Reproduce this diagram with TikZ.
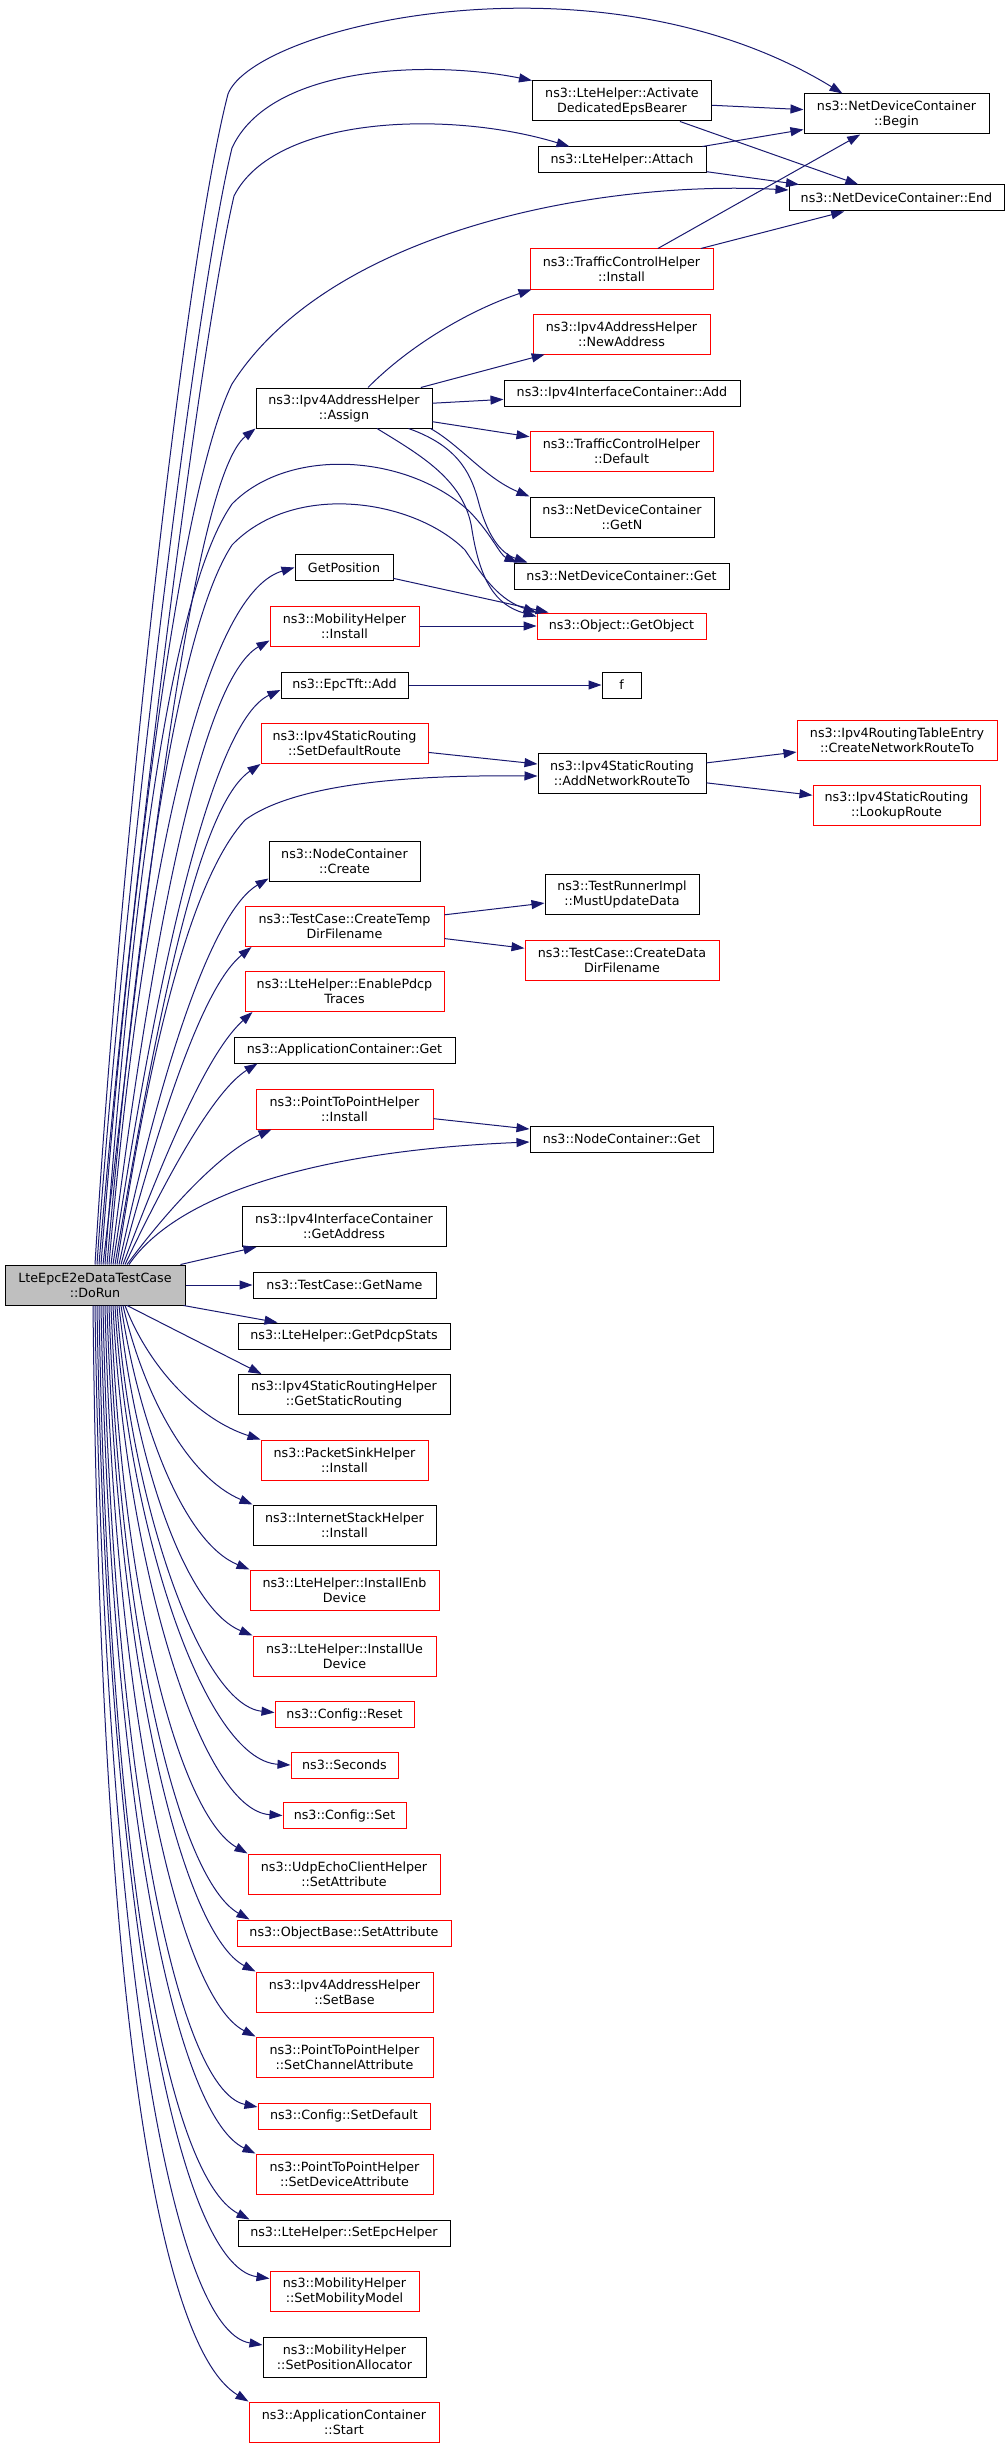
\documentclass[tikz,border=0pt]{standalone}
\usepackage{fontspec}
\setmainfont{DejaVu Sans}
\usepackage{xcolor}
\usepackage{tikz}
\usetikzlibrary{arrows.meta}
\definecolor{edgeblue}{HTML}{191970}
\definecolor{rootgray}{HTML}{BFBFBF}

\begin{document}
\begin{tikzpicture}[x=1pt,y=-1pt,
  fn/.style={draw=black,line width=1pt,fill=white,inner sep=0pt,align=center,minimum height=26pt,font=\fontsize{12.7}{15}\selectfont},
  fnred/.style={fn,draw=red},
  tall/.style={minimum height=40pt},
  root/.style={fn,tall,fill=rootgray},
  call/.style={draw=edgeblue,line width=1pt,-{Triangle[length=13pt,width=9pt]}}]
\useasboundingbox (0,0) rectangle (1005,2448);
%% root
\node[root,minimum width=180pt] (dorun) at (95,1285) {LteEpcE2eDataTestCase\\::DoRun};
%% right column
\node[fn,tall,minimum width=185pt] (ndcbegin) at (896.5,114) {ns3::NetDeviceContainer\\::Begin};
\node[fn,minimum width=215pt] (ndcend) at (896.5,198) {ns3::NetDeviceContainer::End};
\node[fnred,tall,minimum width=200pt] (createroute) at (897,740) {ns3::Ipv4RoutingTableEntry\\::CreateNetworkRouteTo};
\node[fnred,tall,minimum width=167pt] (lookup) at (896.5,805) {ns3::Ipv4StaticRouting\\::LookupRoute};
%% middle column
\node[fn,tall,minimum width=179pt] (activate) at (622,101) {ns3::LteHelper::Activate\\DedicatedEpsBearer};
\node[fn,minimum width=168pt] (attach) at (622,160) {ns3::LteHelper::Attach};
\node[fnred,tall,minimum width=183pt] (tcinstall) at (621.5,269) {ns3::TrafficControlHelper\\::Install};
\node[fnred,tall,minimum width=177pt] (newaddr) at (621.5,334) {ns3::Ipv4AddressHelper\\::NewAddress};
\node[fn,minimum width=236pt] (ifadd) at (622,393) {ns3::Ipv4InterfaceContainer::Add};
\node[fnred,tall,minimum width=183pt] (tcdefault) at (621.5,451) {ns3::TrafficControlHelper\\::Default};
\node[fn,tall,minimum width=184pt] (getn) at (622,517) {ns3::NetDeviceContainer\\::GetN};
\node[fn,minimum width=215pt] (ndcget) at (621.5,576) {ns3::NetDeviceContainer::Get};
\node[fnred,minimum width=169pt] (getobject) at (621.5,626) {ns3::Object::GetObject};
\node[fn,minimum width=39pt] (fnode) at (621.5,685) {f};
\node[fn,tall,minimum width=168pt] (addroute) at (622,773) {ns3::Ipv4StaticRouting\\::AddNetworkRouteTo};
\node[fn,tall,minimum width=154pt] (mustupdate) at (622,894) {ns3::TestRunnerImpl\\::MustUpdateData};
\node[fnred,tall,minimum width=194pt] (createdata) at (622,960) {ns3::TestCase::CreateData\\DirFilename};
\node[fn,minimum width=183pt] (nodeget) at (621.5,1139) {ns3::NodeContainer::Get};
%% left column
\node[fn,tall,minimum width=176pt] (assign) at (344,408) {ns3::Ipv4AddressHelper\\::Assign};
\node[fn,minimum width=98pt] (getpos) at (344,567.5) {GetPosition};
\node[fnred,tall,minimum width=149pt] (mobinstall) at (344.5,626) {ns3::MobilityHelper\\::Install};
\node[fn,minimum width=127pt] (epcadd) at (344.5,685) {ns3::EpcTft::Add};
\node[fnred,tall,minimum width=167pt] (setdefroute) at (344.5,743.5) {ns3::Ipv4StaticRouting\\::SetDefaultRoute};
\node[fn,tall,minimum width=151pt] (nccreate) at (344.5,861) {ns3::NodeContainer\\::Create};
\node[fnred,tall,minimum width=199pt] (createtemp) at (344.5,926.5) {ns3::TestCase::CreateTemp\\DirFilename};
\node[fnred,tall,minimum width=199pt] (pdcptraces) at (344.5,991.5) {ns3::LteHelper::EnablePdcp\\Traces};
\node[fn,minimum width=221pt] (appget) at (344.5,1050) {ns3::ApplicationContainer::Get};
\node[fnred,tall,minimum width=177pt] (p2pinstall) at (344.5,1109) {ns3::PointToPointHelper\\::Install};
\node[fn,tall,minimum width=204pt] (getaddr) at (344,1226.5) {ns3::Ipv4InterfaceContainer\\::GetAddress};
\node[fn,minimum width=183pt] (getname) at (344.5,1285) {ns3::TestCase::GetName};
\node[fn,minimum width=212pt] (pdcpstats) at (344,1336) {ns3::LteHelper::GetPdcpStats};
\node[fn,tall,minimum width=212pt] (staticrouting) at (344,1394.5) {ns3::Ipv4StaticRoutingHelper\\::GetStaticRouting};
\node[fnred,tall,minimum width=167pt] (sinkinstall) at (344.5,1460) {ns3::PacketSinkHelper\\::Install};
\node[fn,tall,minimum width=183pt] (stackinstall) at (344.5,1525) {ns3::InternetStackHelper\\::Install};
\node[fnred,tall,minimum width=189pt] (enbdev) at (344.5,1590) {ns3::LteHelper::InstallEnb\\Device};
\node[fnred,tall,minimum width=183pt] (uedev) at (344.5,1656) {ns3::LteHelper::InstallUe\\Device};
\node[fnred,minimum width=139pt] (cfgreset) at (344.5,1714.5) {ns3::Config::Reset};
\node[fnred,minimum width=107pt] (seconds) at (344.5,1765) {ns3::Seconds};
\node[fnred,minimum width=123pt] (cfgset) at (344.5,1815.5) {ns3::Config::Set};
\node[fnred,tall,minimum width=192pt] (udpattr) at (344,1874) {ns3::UdpEchoClientHelper\\::SetAttribute};
\node[fnred,minimum width=214pt] (objattr) at (344,1933) {ns3::ObjectBase::SetAttribute};
\node[fnred,tall,minimum width=177pt] (setbase) at (344.5,1992) {ns3::Ipv4AddressHelper\\::SetBase};
\node[fnred,tall,minimum width=177pt] (chanattr) at (344.5,2057) {ns3::PointToPointHelper\\::SetChannelAttribute};
\node[fnred,minimum width=172pt] (cfgdefault) at (344,2116) {ns3::Config::SetDefault};
\node[fnred,tall,minimum width=177pt] (devattr) at (344.5,2174) {ns3::PointToPointHelper\\::SetDeviceAttribute};
\node[fn,minimum width=212pt] (setepc) at (344,2233) {ns3::LteHelper::SetEpcHelper};
\node[fnred,tall,minimum width=149pt] (mobmodel) at (344.5,2291.5) {ns3::MobilityHelper\\::SetMobilityModel};
\node[fn,tall,minimum width=163pt] (posalloc) at (344.5,2357) {ns3::MobilityHelper\\::SetPositionAllocator};
\node[fnred,tall,minimum width=190pt] (appstart) at (344,2422) {ns3::ApplicationContainer\\::Start};
%% short calls
\draw[call] (activate) -- (ndcbegin);
\draw[call] (activate) -- (ndcend);
\draw[call] (attach) -- (ndcbegin);
\draw[call] (attach) -- (ndcend);
\draw[call] (tcinstall) -- (ndcbegin);
\draw[call] (tcinstall) -- (ndcend);
\draw[call] ([xshift=24pt]assign.north) .. controls (410,345) and (470,310) .. ([xshift=2pt]tcinstall.south west);
\draw[call] (assign) -- (newaddr);
\draw[call] (assign) -- (ifadd);
\draw[call] (assign) -- (tcdefault);
\draw[call] ([xshift=-2pt]assign.south east) .. controls (460,445) and (485,478) .. (getn.north west);
\draw[call] ([xshift=-24pt]assign.south east) .. controls (455,445) and (470,470) .. (478,500) .. controls (487,535) and (500,553) .. ([xshift=14pt]ndcget.north west);
\draw[call] ([xshift=33pt]assign.south) .. controls (420,455) and (465,480) .. (472,530) .. controls (480,580) and (495,605) .. ([yshift=-4pt]getobject.north west);
\draw[call] (getpos) -- ([xshift=12pt]getobject.north west);
\draw[call] (mobinstall) -- (getobject);
\draw[call] (epcadd) -- (fnode);
\draw[call] (setdefroute) -- (addroute);
\draw[call] (addroute) -- (createroute);
\draw[call] (addroute) -- (lookup);
\draw[call] (createtemp) -- (mustupdate);
\draw[call] (createtemp) -- (createdata);
\draw[call] (p2pinstall) -- (nodeget);
%% DoRun, upwards
\draw[call] (dorun.north) .. controls (120,850) and (185,260) .. (228,94) .. controls (255,25) and (600,-55) .. ([xshift=39pt]ndcbegin.north west);
\draw[call] ([xshift=2pt]dorun.north) .. controls (122,900) and (195,300) .. (232,148) .. controls (270,65) and (430,60) .. (activate.north west);
\draw[call] ([xshift=4pt]dorun.north) .. controls (124,950) and (198,350) .. (234,196) .. controls (275,115) and (450,110) .. ([xshift=32pt]attach.north west);
\draw[call] ([xshift=6pt]dorun.north) .. controls (125,950) and (175,500) .. (232,384) .. controls (330,230) and (600,180) .. ([yshift=8pt]ndcend.west);
\draw[call] ([xshift=8pt]dorun.north) .. controls (140,950) and (190,480) .. (assign.south west);
\draw[call] ([xshift=10pt]dorun.north) .. controls (128,950) and (165,600) .. (232,504) .. controls (290,445) and (410,455) .. (470,512) .. controls (492,535) and (500,555) .. ([xshift=4pt]ndcget.north west);
\draw[call] ([xshift=12pt]dorun.north) .. controls (132,980) and (170,640) .. (232,545) .. controls (295,480) and (415,500) .. (465,550) .. controls (485,580) and (500,600) .. (getobject.north west);
\draw[call] ([xshift=14pt]dorun.north) .. controls (140,900) and (200,595) .. (getpos.west);
\draw[call] ([xshift=16pt]dorun.north) .. controls (150,950) and (200,680) .. ([yshift=6pt]mobinstall.south west);
\draw[call] ([xshift=18pt]dorun.north) .. controls (160,950) and (215,720) .. ([yshift=-5pt]epcadd.west);
\draw[call] ([xshift=20pt]dorun.north) .. controls (160,1000) and (200,805) .. (setdefroute.south west);
\draw[call] ([xshift=22pt]dorun.north) .. controls (150,1050) and (190,880) .. (245,820) .. controls (300,780) and (430,775) .. ([yshift=-3pt]addroute.west);
\draw[call] ([xshift=24pt]dorun.north) .. controls (165,1050) and (215,910) .. ([yshift=3pt]nccreate.south west);
\draw[call] ([xshift=26pt]dorun.north) .. controls (165,1100) and (205,985) .. ([xshift=7pt]createtemp.south west);
\draw[call] ([xshift=28pt]dorun.north) .. controls (170,1140) and (210,1050) .. ([xshift=8pt]pdcptraces.south west);
\draw[call] ([xshift=30pt]dorun.north) .. controls (170,1170) and (215,1090) .. ([xshift=24pt]appget.south west);
\draw[call] ([xshift=32pt]dorun.north) .. controls (175,1200) and (225,1150) .. ([xshift=16pt]p2pinstall.south west);
\draw[call] ([xshift=34pt]dorun.north) .. controls (180,1190) and (330,1150) .. ([yshift=-3pt]nodeget.west);
%% DoRun, sideways
\draw[call] ([xshift=-5pt]dorun.north east) -- ([xshift=15pt]getaddr.south west);
\draw[call] (dorun) -- (getname);
\draw[call] ([xshift=-2pt]dorun.south east) -- ([xshift=40pt]pdcpstats.north west);
\draw[call] ([xshift=32pt]dorun.south) -- ([xshift=24pt]staticrouting.north west);
%% DoRun, downwards
\draw[call] ([xshift=30pt]dorun.south) .. controls (150,1370) and (200,1420) .. (sinkinstall.north west);
\draw[call] ([xshift=28pt]dorun.south) .. controls (145,1400) and (190,1478) .. (stackinstall.north west);
\draw[call] ([xshift=26pt]dorun.south) .. controls (140,1430) and (185,1543) .. (enbdev.north west);
\draw[call] ([xshift=24pt]dorun.south) .. controls (135,1460) and (185,1608) .. (uedev.north west);
\draw[call] ([xshift=22pt]dorun.south) .. controls (130,1500) and (200,1705) .. ([yshift=2pt]cfgreset.west);
\draw[call] ([xshift=20pt]dorun.south) .. controls (128,1530) and (205,1760) .. (seconds.west);
\draw[call] ([xshift=18pt]dorun.south) .. controls (125,1560) and (200,1810) .. (cfgset.west);
\draw[call] ([xshift=16pt]dorun.south) .. controls (122,1600) and (180,1815) .. (udpattr.north west);
\draw[call] ([xshift=14pt]dorun.south) .. controls (120,1640) and (180,1880) .. ([xshift=13pt]objattr.north west);
\draw[call] ([xshift=12pt]dorun.south) .. controls (118,1680) and (185,1935) .. (setbase.north west);
\draw[call] ([xshift=10pt]dorun.south) .. controls (115,1720) and (180,1998) .. (chanattr.north west);
\draw[call] ([xshift=8pt]dorun.south) .. controls (112,1760) and (175,2090) .. ([yshift=9pt]cfgdefault.west);
\draw[call] ([xshift=6pt]dorun.south) .. controls (110,1800) and (175,2115) .. (devattr.north west);
\draw[call] ([xshift=4pt]dorun.south) .. controls (108,1850) and (165,2175) .. ([xshift=12pt]setepc.north west);
\draw[call] ([xshift=2pt]dorun.south) .. controls (106,1890) and (175,2265) .. ([yshift=13pt]mobmodel.west);
\draw[call] (dorun.south) .. controls (104,1940) and (170,2330) .. ([yshift=12pt]posalloc.west);
\draw[call] ([xshift=-2pt]dorun.south) .. controls (100,1980) and (155,2345) .. (appstart.north west);
\end{tikzpicture}
\end{document}
